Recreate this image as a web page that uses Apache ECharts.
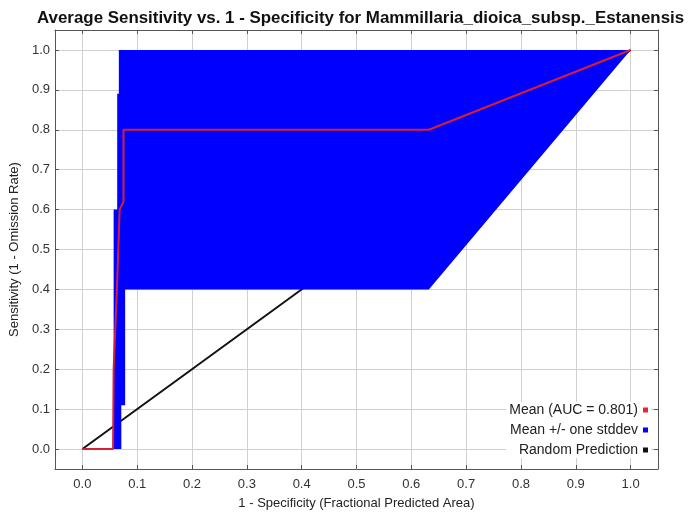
<!DOCTYPE html>
<html><head><meta charset="utf-8">
<script src="https://cdn.jsdelivr.net/npm/echarts@6/dist/echarts.min.js"></script>
<style>html,body{margin:0;padding:0;background:#fff}#c{width:700px;height:515px}</style>
</head><body><div id="c"></div>
<script>
const tickValues = [0, 0.1, 0.2, 0.3, 0.4, 0.5, 0.6, 0.7, 0.8, 0.9, 1.0];
const meanX = [0, 0.056, 0.057, 0.063, 0.068, 0.075, 0.075, 0.632, 1];
const meanY = [0, 0, 0.2, 0.4, 0.6, 0.62, 0.8, 0.8, 1];
const upperX = [0.057, 0.057, 0.0635, 0.0635, 0.0665, 0.0665, 1];
const upperY = [0, 0.6, 0.6, 0.89, 0.89, 1, 1];
const lowerX = [1, 0.632, 0.078, 0.078, 0.071, 0.071];
const lowerY = [1, 0.4, 0.4, 0.11, 0.11, 0];
const randomX = [0, 1];
const randomY = [0, 1];
const legendNames = ['Mean (AUC = 0.801)', 'Mean +/- one stddev', 'Random Prediction'];
const titleText = 'Average Sensitivity vs. 1 - Specificity for Mammillaria_dioica_subsp._Estanensis';

const FONT = 'Liberation Sans';
const chart = echarts.init(document.getElementById('c'), null, {renderer: 'canvas'});

function mkAxis(pos, isX, main) {
  return {
    type: 'value', position: pos, min: -0.05, max: 1.05,
    gridIndex: 0,
    name: main ? (isX ? '1 - Specificity (Fractional Predicted Area)' : 'Sensitivity (1 - Omission Rate)') : '',
    nameLocation: 'middle',
    nameGap: isX ? 28 : 29,
    nameTextStyle: {fontFamily: FONT, fontSize: 13, color: '#222'},
    axisLine: {show: true, onZero: false, lineStyle: {color: '#555', width: 1}},
    axisTick: {show: true, inside: true, length: 4, customValues: tickValues, lineStyle: {color: '#555'}},
    axisLabel: main ? {show: true, customValues: tickValues, margin: isX ? 9 : 5, fontFamily: FONT, fontSize: 13, color: '#333',
      formatter: v => v.toFixed(1)} : {show: false},
    splitLine: main ? {show: true, lineStyle: {color: '#d0d0d0', width: 1}} : {show: false}
  };
}

chart.setOption({
  animation: false,
  backgroundColor: '#fff',
  title: {text: titleText, left: 32, top: 5,
    textStyle: {fontFamily: FONT, fontSize: 16.9, fontWeight: 'bold', color: '#111'}},
  grid: {left: 53, right: 42, top: 30, bottom: 46, containLabel: false},
  xAxis: [mkAxis('bottom', true, true), mkAxis('top', true, false)],
  yAxis: [mkAxis('left', false, true), mkAxis('right', false, false)],
  legend: {
    orient: 'vertical', right: 49, bottom: 57, align: 'right', icon: 'rect',
    itemWidth: 5, itemHeight: 5, itemGap: 6, backgroundColor: '#fff', padding: [1, 3],
    textStyle: {fontFamily: FONT, fontSize: 14, color: '#222'},
    data: legendNames
  },
  series: [
    {
      name: legendNames[2], type: 'line', xAxisIndex: 0, yAxisIndex: 0, symbol: 'none',
      data: randomX.map((x, i) => [x, randomY[i]]),
      lineStyle: {color: '#111', width: 2}, itemStyle: {color: '#111'}, z: 2
    },
    {
      name: legendNames[1], type: 'custom', xAxisIndex: 0, yAxisIndex: 0,
      itemStyle: {color: '#0000ff'}, z: 3,
      data: [[0, 0]],
      renderItem: function (params, api) {
        const pts = upperX.map((x, i) => api.coord([x, upperY[i]]))
          .concat(lowerX.map((x, i) => api.coord([x, lowerY[i]])));
        return {type: 'polygon', shape: {points: pts}, style: {fill: '#0000ff', stroke: null}};
      }
    },
    {
      name: legendNames[0], type: 'line', xAxisIndex: 0, yAxisIndex: 0, symbol: 'none',
      data: meanX.map((x, i) => [x, meanY[i]]),
      lineStyle: {color: '#d81e35', width: 2}, itemStyle: {color: '#e8262c'}, z: 4
    }
  ]
});
</script></body></html>
